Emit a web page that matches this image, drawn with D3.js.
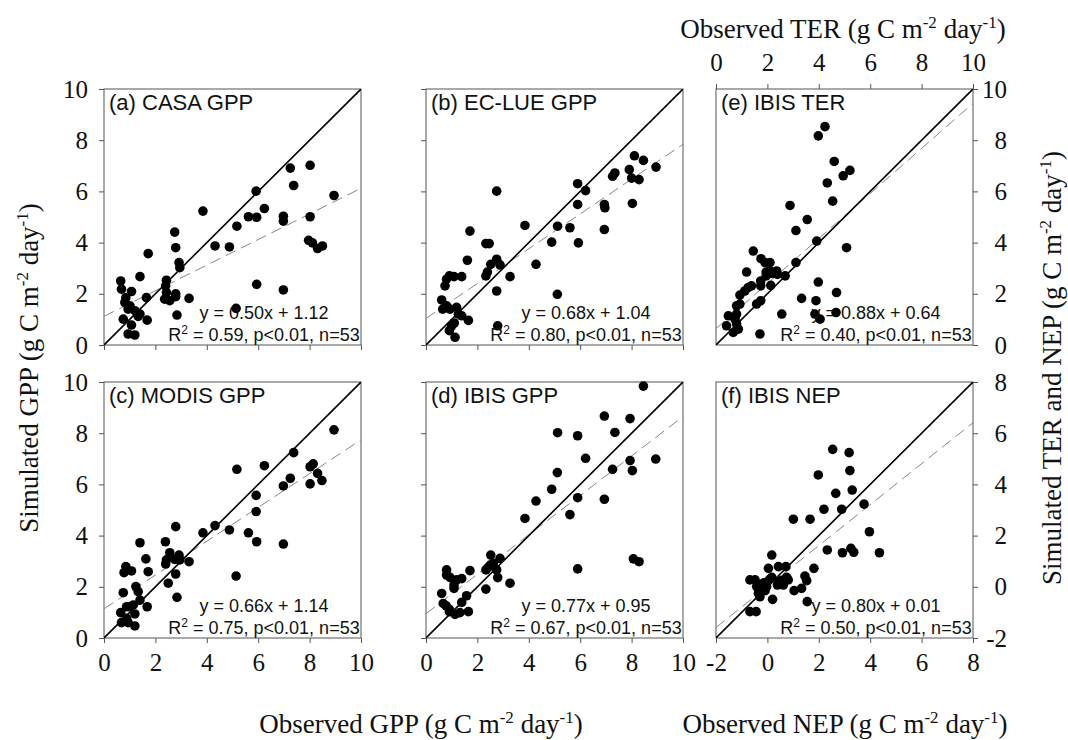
<!DOCTYPE html>
<html>
<head>
<meta charset="utf-8">
<script src="https://cdn.jsdelivr.net/npm/d3@7"></script>
<style>
  body { margin: 0; background: #fff; }
</style>
</head>
<body>
<div id="chart-container"></div>
<script>
// Observed vs simulated values, one x/y pair of arrays per panel
const casaX  = [0.65,0.68,0.85,0.81,1.07,1.40,1.72,1.65,0.75,0.94,1.20,1.07,0.94,1.20,1.40,1.68,1.33,1.01,2.43,2.40,2.43,2.36,2.56,2.75,2.79,2.92,2.95,2.79,2.84,3.31,3.85,4.32,4.88,5.17,5.14,5.62,5.92,5.94,5.94,6.24,6.98,6.98,6.98,7.25,7.38,8.02,8.02,7.96,8.11,8.31,8.50,8.95,2.79];
const casaY  = [2.50,2.18,1.85,1.66,2.09,2.67,3.57,1.85,1.01,1.40,1.34,0.78,0.43,0.39,1.21,0.97,1.12,1.53,2.53,2.31,2.05,1.79,1.73,4.41,3.80,3.22,3.02,1.89,1.17,1.82,5.23,3.87,3.83,4.64,1.43,5.01,6.01,4.99,2.37,5.33,5.03,4.84,2.15,6.91,6.23,7.02,5.01,4.09,3.99,3.77,3.87,5.84,2.00];

const eclueX = [0.61,0.65,0.80,0.93,1.19,1.26,1.39,1.65,1.00,0.91,1.13,0.74,0.80,0.91,1.09,1.39,1.61,1.71,2.33,2.46,2.33,2.39,2.52,2.75,2.88,2.75,2.75,2.79,3.27,3.85,4.28,4.89,5.12,5.11,5.60,5.90,5.90,5.93,6.21,6.94,6.96,6.94,7.26,7.35,7.91,8.00,8.03,8.11,8.29,8.46,8.95,1.10];
const eclueY = [1.76,1.40,1.53,1.40,1.47,1.21,1.14,0.96,0.75,0.56,0.30,2.31,2.57,2.70,2.67,2.67,3.31,4.45,3.96,3.96,2.70,2.85,3.15,3.35,3.13,2.11,6.01,0.75,2.67,4.67,3.15,4.02,4.64,1.98,4.58,6.30,5.49,3.99,6.03,5.49,5.36,4.51,6.59,6.72,6.85,6.52,5.53,7.39,6.46,7.21,6.95,0.86];

const modisX = [0.65,0.68,0.94,0.88,1.01,0.88,1.14,1.20,1.20,0.75,1.24,1.33,1.40,1.68,0.78,0.85,1.07,1.40,1.63,1.72,2.39,2.40,2.43,2.56,2.50,2.79,2.75,2.79,2.84,2.92,2.95,3.31,3.85,4.32,4.88,5.14,5.17,5.62,5.92,5.92,5.94,6.24,6.98,6.98,7.25,7.38,8.02,8.14,8.02,8.31,8.48,8.95];
const modisY = [0.99,0.60,0.60,0.77,1.22,1.22,1.29,0.94,0.47,1.77,2.01,1.81,1.48,1.22,2.55,2.79,2.62,3.72,3.09,2.59,3.76,2.89,3.05,3.33,2.14,4.35,3.07,2.50,1.59,3.24,3.05,2.98,4.11,4.39,4.22,2.42,6.59,4.11,5.57,4.94,3.76,6.73,5.94,3.67,6.24,7.24,6.69,6.80,6.02,6.43,6.15,8.13];

const ibisX  = [0.61,0.67,0.78,0.91,1.13,1.32,1.39,1.65,1.58,1.09,1.09,0.80,0.80,0.93,1.19,1.39,1.71,2.33,2.33,2.42,2.52,2.62,2.75,2.79,2.88,3.27,3.85,4.28,4.89,5.11,5.12,5.60,5.90,5.90,5.90,6.21,6.94,6.94,7.26,7.35,7.94,7.94,8.03,8.07,8.29,8.46,8.94,0.91,2.50];
const ibisY  = [1.74,1.35,1.26,1.12,0.92,0.99,1.39,1.03,1.65,1.94,2.07,2.66,2.46,2.37,2.27,2.32,2.63,1.91,2.66,2.76,3.24,2.92,2.66,2.36,3.11,2.14,4.67,5.35,5.81,6.46,8.02,4.82,7.90,5.48,2.70,7.02,8.67,5.42,6.59,8.03,8.57,6.93,6.54,3.09,2.98,9.84,6.99,1.03,2.85];

const terX   = [0.41,0.48,0.74,0.80,0.87,0.80,0.80,0.93,0.93,1.12,1.25,1.38,1.19,1.45,1.74,1.58,1.74,1.71,1.75,1.91,1.95,2.10,2.10,2.17,2.13,2.30,2.36,2.69,2.88,2.56,3.11,3.11,3.33,3.55,3.89,3.85,3.92,3.98,4.05,3.98,4.24,4.33,4.54,4.60,4.67,4.69,4.95,5.21,5.08,1.95,2.39,0.67,1.74];
const terY   = [0.75,1.14,1.01,0.82,0.62,1.21,1.53,1.60,1.95,2.11,2.24,2.31,2.85,3.67,2.31,1.60,1.73,0.43,3.37,3.22,2.85,3.22,2.89,2.80,2.33,2.80,2.89,2.70,5.45,1.21,3.22,4.47,1.82,4.90,1.73,1.21,4.06,2.46,1.01,8.17,8.53,6.33,5.62,7.17,1.27,2.05,6.61,6.82,3.80,2.70,2.76,0.49,2.50];

const nepX   = [-0.68,-0.44,-0.68,-0.48,-0.42,-0.35,-0.29,-0.22,-0.13,-0.03,-0.09,0.17,0.04,0.17,0.20,0.39,0.43,0.46,0.62,0.72,0.75,0.81,1.01,1.04,1.33,1.46,1.53,1.55,1.66,1.81,1.98,2.20,2.33,2.54,2.66,2.89,2.92,3.18,3.21,3.25,3.30,3.36,3.76,3.97,4.36,-0.29,0.00,0.55,-0.20,0.10];
const nepY   = [-0.97,-0.97,0.27,0.27,0.01,-0.26,-0.06,0.07,0.16,0.01,-0.15,0.37,0.72,1.24,-0.49,0.07,0.79,0.20,0.07,0.79,0.37,0.27,2.64,-0.15,-0.06,0.42,0.24,-0.58,2.64,0.72,4.37,3.03,1.44,5.37,3.65,3.03,1.33,5.24,4.54,1.50,3.78,1.35,3.23,2.15,1.33,-0.39,0.20,0.25,0.10,0.30];

// Panel titles and fitted regression results
const panelNames = ["(a) CASA GPP", "(b) EC-LUE GPP", "(c) MODIS GPP", "(d) IBIS GPP", "(e) IBIS TER", "(f) IBIS NEP"];
const slopes     = [0.50, 0.68, 0.66, 0.77, 0.88, 0.80];
const intercepts = [1.12, 1.04, 1.14, 0.95, 0.64, 0.01];
const r2Values   = ["0.59", "0.80", "0.75", "0.67", "0.40", "0.50"];
const nValues    = [53, 53, 53, 53, 53, 53];

// Tick labels
const gppTicks = [0, 2, 4, 6, 8, 10];
const nepTicks = [-2, 0, 2, 4, 6, 8];

const width = 1068, height = 740;
const panelW = 257, panelH = 256;
const colX = [104, 426, 716];
const rowY = [89, 382];

const serif = "'Liberation Serif', 'Times New Roman', serif";
const sans = "'Liberation Sans', Arial, sans-serif";

const svg = d3.select("#chart-container")
  .append("svg")
    .attr("width", width)
    .attr("height", height);

// which axes each panel shows: [side, showLabels]
const panels = [
  {x: casaX,  y: casaY,  col: 0, row: 0, dom: [0, 10], ticks: gppTicks, axes: [["left", true], ["bottom", false]]},
  {x: eclueX, y: eclueY, col: 1, row: 0, dom: [0, 10], ticks: gppTicks, axes: [["left", false], ["bottom", false]]},
  {x: modisX, y: modisY, col: 0, row: 1, dom: [0, 10], ticks: gppTicks, axes: [["left", true], ["bottom", true]]},
  {x: ibisX,  y: ibisY,  col: 1, row: 1, dom: [0, 10], ticks: gppTicks, axes: [["left", false], ["bottom", true]]},
  {x: terX,   y: terY,   col: 2, row: 0, dom: [0, 10], ticks: gppTicks, axes: [["top", true], ["right", true]]},
  {x: nepX,   y: nepY,   col: 2, row: 1, dom: [-2, 8], ticks: nepTicks, axes: [["bottom", true], ["right", true]]}
];

panels.forEach((p, i) => {
  const x = d3.scaleLinear().domain(p.dom).range([0, panelW]);
  const y = d3.scaleLinear().domain(p.dom).range([panelH, 0]);

  const g = svg.append("g")
    .attr("transform", `translate(${colX[p.col]}, ${rowY[p.row]})`);

  g.append("clipPath").attr("id", "clip" + i)
    .append("rect").attr("width", panelW).attr("height", panelH);

  // axes
  p.axes.forEach(([side, showLabels]) => {
    let axis, tr = "";
    if (side === "left") axis = d3.axisLeft(y).tickPadding(11);
    if (side === "bottom") { axis = d3.axisBottom(x).tickPadding(10); tr = `translate(0, ${panelH})`; }
    if (side === "top") axis = d3.axisTop(x).tickPadding(13);
    if (side === "right") { axis = d3.axisRight(y).tickPadding(10); tr = `translate(${panelW}, 0)`; }
    axis.tickValues(p.ticks).tickSizeOuter(0).tickSize(5)
      .tickFormat(showLabels ? (d => String(d)) : "");
    const ag = g.append("g").attr("transform", tr).call(axis);
    ag.select(".domain").remove();
    ag.selectAll(".tick line").attr("stroke", "#555");
    ag.selectAll(".tick text")
      .attr("fill", "#111")
      .style("font-family", serif)
      .style("font-size", "25px");
    if (side === "right") {
      ag.selectAll(".tick text").attr("text-anchor", "end").attr("x", 34);
    }
  });

  // frame
  g.append("rect")
    .attr("width", panelW).attr("height", panelH)
    .attr("fill", "none").attr("stroke", "#555").attr("stroke-width", 1);

  const clip = g.append("g").attr("clip-path", `url(#clip${i})`);

  // regression line (dashed)
  clip.append("line")
    .attr("x1", x(p.dom[0])).attr("y1", y(slopes[i] * p.dom[0] + intercepts[i]))
    .attr("x2", x(p.dom[1])).attr("y2", y(slopes[i] * p.dom[1] + intercepts[i]))
    .attr("stroke", "#888").attr("stroke-width", 1)
    .attr("stroke-dasharray", "11,6");

  // 1:1 line
  clip.append("line")
    .attr("x1", x(p.dom[0])).attr("y1", y(p.dom[0]))
    .attr("x2", x(p.dom[1])).attr("y2", y(p.dom[1]))
    .attr("stroke", "#000").attr("stroke-width", 1.6);

  // points
  g.selectAll("circle")
    .data(d3.zip(p.x, p.y))
    .join("circle")
    .attr("cx", d => x(d[0]))
    .attr("cy", d => y(d[1]))
    .attr("r", 4.8)
    .attr("fill", "#000");

  // panel name
  g.append("text")
    .attr("x", 5).attr("y", 21)
    .style("font-family", sans).style("font-size", "22px")
    .attr("fill", "#111")
    .text(panelNames[i]);

  // regression equation
  const cx = panelW - 97;
  const sign = intercepts[i] >= 0 ? "+" : "-";
  g.append("text")
    .attr("x", cx).attr("y", panelH - 26)
    .attr("text-anchor", "middle")
    .style("font-family", sans).style("font-size", "18px")
    .attr("fill", "#111")
    .text(`y = ${slopes[i].toFixed(2)}x ${sign} ${Math.abs(intercepts[i]).toFixed(2)}`);

  const r2 = g.append("text")
    .attr("x", cx).attr("y", panelH - 4)
    .attr("text-anchor", "middle")
    .style("font-family", sans).style("font-size", "18px")
    .attr("fill", "#111");
  r2.append("tspan").text("R");
  r2.append("tspan").attr("dy", -7).style("font-size", "12px").text("2");
  r2.append("tspan").attr("dy", 7).text(` = ${r2Values[i]}, p<0.01, n=${nValues[i]}`);
});

// axis titles with superscripted units
function unitTitle(sel, prefix) {
  sel.append("tspan").text(prefix + " (g C m");
  sel.append("tspan").attr("dy", -10).style("font-size", "17px").text("-2");
  sel.append("tspan").attr("dy", 10).text(" day");
  sel.append("tspan").attr("dy", -10).style("font-size", "17px").text("-1");
  sel.append("tspan").attr("dy", 10).text(")");
}

function title(xPos, yPos, rotate, prefix) {
  const t = svg.append("text")
    .attr("transform", `translate(${xPos}, ${yPos}) rotate(${rotate})`)
    .attr("text-anchor", "middle")
    .style("font-family", serif).style("font-size", "27px")
    .attr("fill", "#111");
  unitTitle(t, prefix);
}

title(843, 38, 0, "Observed TER");
title(421, 733, 0, "Observed GPP");
title(845, 733, 0, "Observed NEP");
title(38, 368, -90, "Simulated GPP");
title(1061, 368, -90, "Simulated TER and NEP");
</script>
</body>
</html>
